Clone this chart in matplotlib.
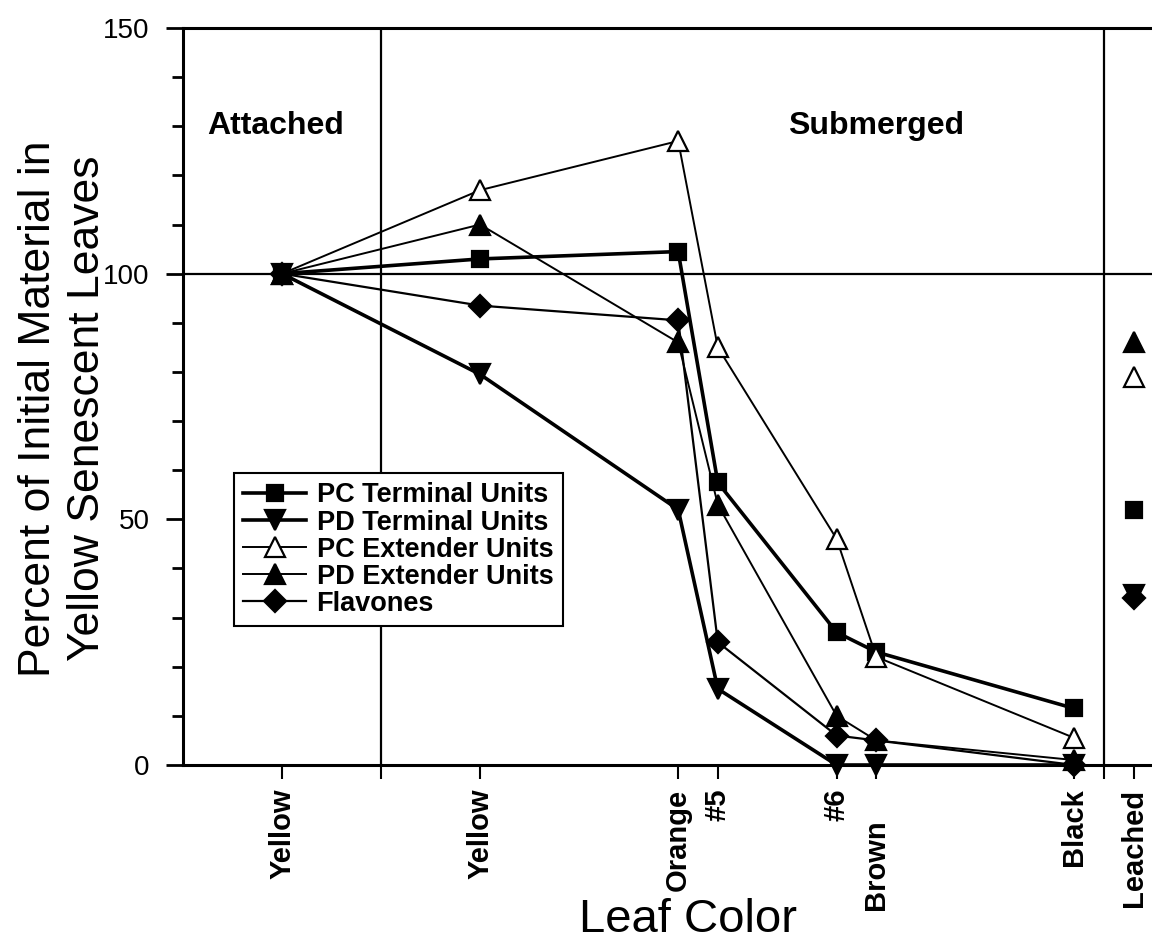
import matplotlib
matplotlib.use("Agg")
import matplotlib.pyplot as plt
from matplotlib.ticker import MultipleLocator, FixedLocator

plt.rcParams["font.family"] = ["Liberation Sans", "DejaVu Sans"]

# leaf colour stages (x position on the time-like axis) and their labels
STAGE_X = [0, 1, 2, 2.2, 2.8, 3, 4]
STAGE_LABELS = ["Yellow", "Yellow", "Orange", "#5", "#6", "Brown", "Black"]
LEACHED_X = 4.3
LEACHED_LABEL = "Leached"

# percent of initial material
pc_terminal = [100, 103, 104.5, 57.5, 27, 23, 11.5]
pd_terminal = [100, 79.5, 52, 15.5, 0, 0, 0]
pc_extender = [100, 117, 127, 85, 46, 22, 5.5]
pd_extender = [100, 110, 86, 53, 10, 5, 1]
flavones = [100, 93.5, 90.5, 25, 6, 5, 0]

# the separate "Leached" points at the right edge
leached_pc_terminal = 52
leached_pd_terminal = 34.5
leached_pc_extender = 79
leached_pd_extender = 86
leached_flavones = 34

SERIES = [
    ("PC Terminal Units", pc_terminal, leached_pc_terminal, "s", "black", 2.6, 12),
    ("PD Terminal Units", pd_terminal, leached_pd_terminal, "v", "black", 2.6, 14),
    ("PC Extender Units", pc_extender, leached_pc_extender, "^", "white", 1.4, 14),
    ("PD Extender Units", pd_extender, leached_pd_extender, "^", "black", 1.4, 14),
    ("Flavones", flavones, leached_flavones, "D", "black", 1.6, 11),
]

fig = plt.figure(figsize=(11.52, 9.51), dpi=100)
ax = fig.add_axes([183 / 1152, 186 / 951, 1030 / 1152, 737 / 951])
ax.set_xlim(-0.5, 4.7)
ax.set_ylim(0, 150)

# region dividers and the 100 % reference line
for xv in (0.5, 4.15):
    ax.axvline(xv, color="black", lw=1.6, zorder=1)
ax.axhline(100, color="black", lw=1.6, zorder=1)

for name, vals, leach, mk, face, lw, ms in SERIES:
    ax.plot(STAGE_X, vals, color="black", lw=lw, marker=mk, ms=ms,
            mfc=face, mec="black", mew=1.6, label=name, clip_on=False, zorder=3)
    ax.plot([LEACHED_X], [leach], ls="none", marker=mk, ms=ms,
            mfc=face, mec="black", mew=1.6, clip_on=False, zorder=3)

ax.text(-0.38, 130, "Attached", fontsize=23, fontweight="bold", va="center")
ax.text(3.0, 130, "Submerged", fontsize=23, fontweight="bold", va="center",
        ha="center")

for side in ("left", "bottom", "top", "right"):
    ax.spines[side].set_linewidth(2.2)

ax.yaxis.set_major_locator(MultipleLocator(50))
ax.yaxis.set_minor_locator(MultipleLocator(10))
ax.tick_params(axis="y", which="major", direction="out", length=12, width=2,
               labelsize=20, pad=12)
ax.tick_params(axis="y", which="minor", direction="out", length=8, width=2)

ax.set_xticks(STAGE_X + [LEACHED_X], STAGE_LABELS + [LEACHED_LABEL],
              rotation=90, fontsize=21, fontweight="bold", va="top")
ax.xaxis.set_minor_locator(FixedLocator([0.5, 4.15]))
ax.tick_params(axis="x", which="both", direction="out", length=10, width=1.5,
               pad=7)
# "Brown" sits lower, just under the "#6" label
ax.xaxis.get_major_ticks()[STAGE_LABELS.index("Brown")].set_pad(29)

ax.set_ylabel("Percent of Initial Material in\nYellow Senescent Leaves",
              fontsize=32, linespacing=1.25)
ax.yaxis.set_label_coords(-0.073, 0.484)
ax.set_xlabel("Leaf Color", fontsize=34)
ax.xaxis.set_label_coords(0.4906, -0.18)

leg = ax.legend(loc="upper left", bbox_to_anchor=(234 / 1152, 1 - 473 / 951),
                bbox_transform=fig.transFigure, borderaxespad=0,
                prop={"size": 19.5, "weight": "bold"}, frameon=True,
                fancybox=False, edgecolor="black", framealpha=1,
                handlelength=2.3, handletextpad=0.4, labelspacing=0.04,
                borderpad=0.35)
leg.get_frame().set_linewidth(1.5)

fig.savefig("out.png", dpi=100)
